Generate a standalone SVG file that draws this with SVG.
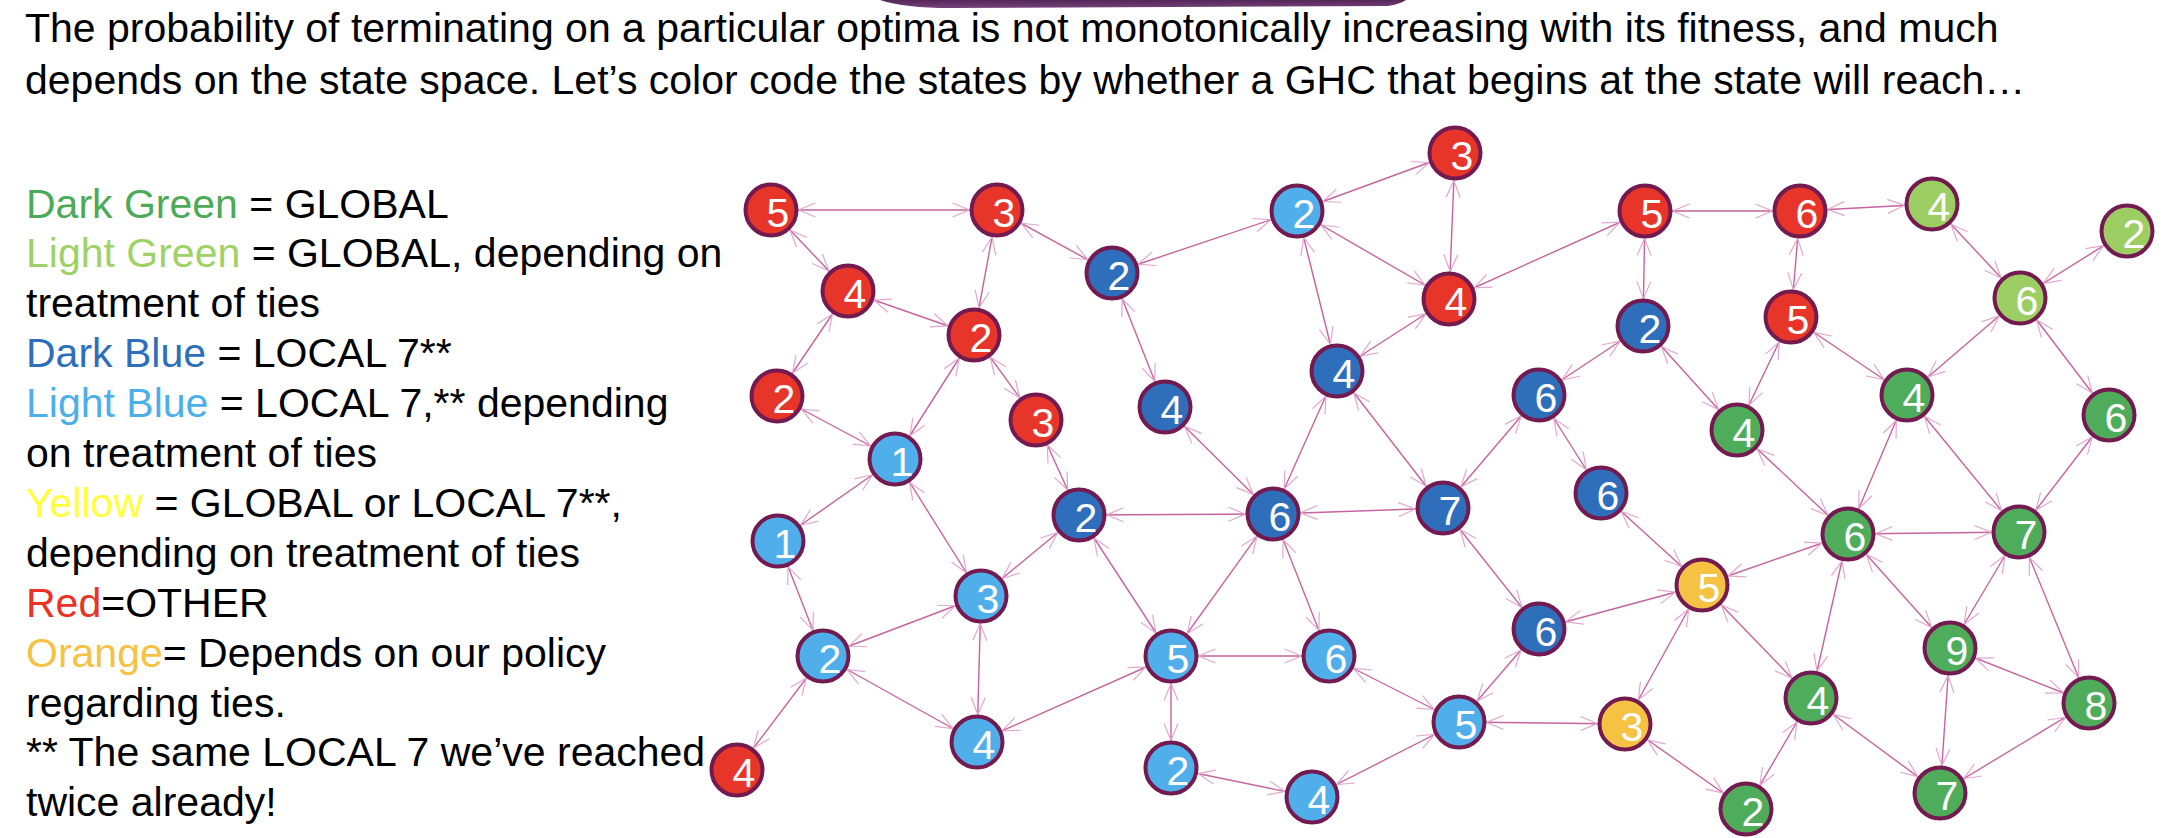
<svg xmlns="http://www.w3.org/2000/svg" width="2164" height="838" viewBox="0 0 2164 838">
<defs>
<linearGradient id="band" x1="0" y1="0" x2="0" y2="1">
<stop offset="0" stop-color="#552658"/>
<stop offset="1" stop-color="#74437A"/>
</linearGradient>
<marker id="ah" markerUnits="userSpaceOnUse" markerWidth="40" markerHeight="20" viewBox="-30 -10 40 20" refX="27.5" refY="0" orient="auto-start-reverse" overflow="visible">
<path d="M-17,-7 L0,0 L-17,7" fill="none" stroke="#E2A7CF" stroke-width="1.2"/>
</marker>
</defs>
<style>
text{font-family:"Liberation Sans",Arial,sans-serif;}
.t{font-size:41px;fill:#000;}
.edges line{stroke:#C5649E;stroke-width:1.4;marker-start:url(#ah);marker-end:url(#ah);}
.node circle{stroke:#731B50;stroke-width:4;}
.node text{font-size:41px;fill:#fff;text-anchor:middle;}
.red circle{fill:#E8352A;}
.lb circle{fill:#50AEEA;}
.db circle{fill:#2F6EBA;}
.ye circle{fill:#F5C243;}
.lg circle{fill:#9DCE64;}
.dg circle{fill:#4EAC5B;}
.cdg{fill:#4DAA57;}.clg{fill:#9FD266;}.cdb{fill:#2E6EBB;}.clb{fill:#4DAFEA;}.cye{fill:#FFFF3B;}.cre{fill:#EA3323;}.cor{fill:#F6C244;}
</style>
<rect width="2164" height="838" fill="#fff"/>
<path d="M880,0 Q905,8 950,8 L1388,6 Q1400,4 1406,0 Z" fill="url(#band)"/>
<g id="title" class="t">
<text x="25" y="42">The probability of terminating on a particular optima is not monotonically increasing with its fitness, and much</text>
<text x="25" y="94">depends on the state space. Let’s color code the states by whether a GHC that begins at the state will reach…</text>
</g>
<g id="legend" class="t">
<text x="26" y="217.5"><tspan class="cdg">Dark Green</tspan> = GLOBAL</text>
<text x="26" y="267.4"><tspan class="clg">Light Green</tspan> = GLOBAL, depending on</text>
<text x="26" y="317.3">treatment of ties</text>
<text x="26" y="367.2"><tspan class="cdb">Dark Blue</tspan> = LOCAL 7**</text>
<text x="26" y="417.1"><tspan class="clb">Light Blue</tspan> = LOCAL 7,** depending</text>
<text x="26" y="467">on treatment of ties</text>
<text x="26" y="516.9"><tspan class="cye">Yellow</tspan> = GLOBAL or LOCAL 7**,</text>
<text x="26" y="566.8">depending on treatment of ties</text>
<text x="26" y="616.7"><tspan class="cre">Red</tspan>=OTHER</text>
<text x="26" y="666.6"><tspan class="cor">Orange</tspan>= Depends on our policy</text>
<text x="26" y="716.5">regarding ties.</text>
<text x="26" y="766.4">** The same LOCAL 7 we’ve reached</text>
<text x="26" y="816.3">twice already!</text>
</g>
<g id="edges" class="edges">
<line x1="771" y1="210" x2="997" y2="210"/>
<line x1="771" y1="210" x2="848" y2="291"/>
<line x1="997" y1="210" x2="1112" y2="273"/>
<line x1="997" y1="210" x2="974" y2="335"/>
<line x1="848" y1="291" x2="974" y2="335"/>
<line x1="848" y1="291" x2="777" y2="396"/>
<line x1="777" y1="396" x2="895" y2="459"/>
<line x1="974" y1="335" x2="895" y2="459"/>
<line x1="974" y1="335" x2="1036" y2="420"/>
<line x1="1112" y1="273" x2="1297" y2="211"/>
<line x1="1112" y1="273" x2="1165" y2="407"/>
<line x1="1297" y1="211" x2="1455" y2="153"/>
<line x1="1297" y1="211" x2="1449" y2="299"/>
<line x1="1297" y1="211" x2="1337" y2="371"/>
<line x1="1449" y1="299" x2="1337" y2="371"/>
<line x1="1036" y1="420" x2="1079" y2="515"/>
<line x1="1165" y1="407" x2="1273" y2="514"/>
<line x1="1337" y1="371" x2="1273" y2="514"/>
<line x1="1337" y1="371" x2="1443" y2="508"/>
<line x1="1455" y1="153" x2="1449" y2="299"/>
<line x1="1449" y1="299" x2="1645" y2="211"/>
<line x1="1645" y1="211" x2="1800" y2="211"/>
<line x1="1645" y1="211" x2="1643" y2="326"/>
<line x1="1800" y1="211" x2="1932" y2="204"/>
<line x1="1800" y1="211" x2="1791" y2="317"/>
<line x1="1932" y1="204" x2="2020" y2="298"/>
<line x1="2127" y1="231" x2="2020" y2="298"/>
<line x1="1643" y1="326" x2="1539" y2="395"/>
<line x1="1643" y1="326" x2="1737" y2="430"/>
<line x1="1791" y1="317" x2="1737" y2="430"/>
<line x1="1791" y1="317" x2="1907" y2="395"/>
<line x1="2020" y1="298" x2="1907" y2="395"/>
<line x1="2020" y1="298" x2="2109" y2="415"/>
<line x1="1539" y1="395" x2="1443" y2="508"/>
<line x1="1539" y1="395" x2="1601" y2="493"/>
<line x1="1737" y1="430" x2="1848" y2="534"/>
<line x1="1907" y1="395" x2="1848" y2="534"/>
<line x1="1907" y1="395" x2="2019" y2="532"/>
<line x1="2109" y1="415" x2="2019" y2="532"/>
<line x1="895" y1="459" x2="778" y2="541"/>
<line x1="895" y1="459" x2="981" y2="596"/>
<line x1="778" y1="541" x2="823" y2="656"/>
<line x1="823" y1="656" x2="981" y2="596"/>
<line x1="823" y1="656" x2="977" y2="742"/>
<line x1="823" y1="656" x2="737" y2="770"/>
<line x1="981" y1="596" x2="1079" y2="515"/>
<line x1="981" y1="596" x2="977" y2="742"/>
<line x1="1079" y1="515" x2="1273" y2="514"/>
<line x1="1079" y1="515" x2="1171" y2="656"/>
<line x1="1273" y1="514" x2="1443" y2="508"/>
<line x1="1273" y1="514" x2="1171" y2="656"/>
<line x1="1273" y1="514" x2="1329" y2="656"/>
<line x1="1171" y1="656" x2="1329" y2="656"/>
<line x1="1171" y1="656" x2="977" y2="742"/>
<line x1="1171" y1="656" x2="1171" y2="768"/>
<line x1="1171" y1="768" x2="1312" y2="797"/>
<line x1="1312" y1="797" x2="1459" y2="722"/>
<line x1="1329" y1="656" x2="1459" y2="722"/>
<line x1="1443" y1="508" x2="1539" y2="629"/>
<line x1="1601" y1="493" x2="1702" y2="585"/>
<line x1="1702" y1="585" x2="1848" y2="534"/>
<line x1="1702" y1="585" x2="1539" y2="629"/>
<line x1="1702" y1="585" x2="1625" y2="724"/>
<line x1="1702" y1="585" x2="1811" y2="698"/>
<line x1="1539" y1="629" x2="1459" y2="722"/>
<line x1="1459" y1="722" x2="1625" y2="724"/>
<line x1="1625" y1="724" x2="1746" y2="809"/>
<line x1="1746" y1="809" x2="1811" y2="698"/>
<line x1="1811" y1="698" x2="1848" y2="534"/>
<line x1="1811" y1="698" x2="1940" y2="793"/>
<line x1="1848" y1="534" x2="2019" y2="532"/>
<line x1="1848" y1="534" x2="1950" y2="648"/>
<line x1="2019" y1="532" x2="1950" y2="648"/>
<line x1="2019" y1="532" x2="2089" y2="703"/>
<line x1="1950" y1="648" x2="2089" y2="703"/>
<line x1="1950" y1="648" x2="1940" y2="793"/>
<line x1="1940" y1="793" x2="2089" y2="703"/>
</g>
<g id="nodes">
<g id="n1" class="node red"><circle cx="771" cy="210" r="25.5"/><text x="778" y="227">5</text></g>
<g id="n2" class="node red"><circle cx="997" cy="210" r="25.5"/><text x="1004" y="227">3</text></g>
<g id="n3" class="node red"><circle cx="848" cy="291" r="25.5"/><text x="855" y="308">4</text></g>
<g id="n4" class="node red"><circle cx="974" cy="335" r="25.5"/><text x="981" y="352">2</text></g>
<g id="n5" class="node red"><circle cx="777" cy="396" r="25.5"/><text x="784" y="413">2</text></g>
<g id="n6" class="node red"><circle cx="1036" cy="420" r="25.5"/><text x="1043" y="437">3</text></g>
<g id="n7" class="node red"><circle cx="1455" cy="153" r="25.5"/><text x="1462" y="170">3</text></g>
<g id="n8" class="node red"><circle cx="1449" cy="299" r="25.5"/><text x="1456" y="316">4</text></g>
<g id="n9" class="node red"><circle cx="1645" cy="211" r="25.5"/><text x="1652" y="228">5</text></g>
<g id="n10" class="node red"><circle cx="1800" cy="211" r="25.5"/><text x="1807" y="228">6</text></g>
<g id="n11" class="node red"><circle cx="1791" cy="317" r="25.5"/><text x="1798" y="334">5</text></g>
<g id="n12" class="node red"><circle cx="737" cy="770" r="25.5"/><text x="744" y="787">4</text></g>
<g id="n13" class="node lb"><circle cx="1297" cy="211" r="25.5"/><text x="1304" y="228">2</text></g>
<g id="n14" class="node lb"><circle cx="895" cy="459" r="25.5"/><text x="902" y="476">1</text></g>
<g id="n15" class="node lb"><circle cx="778" cy="541" r="25.5"/><text x="785" y="558">1</text></g>
<g id="n16" class="node lb"><circle cx="981" cy="596" r="25.5"/><text x="988" y="613">3</text></g>
<g id="n17" class="node lb"><circle cx="823" cy="656" r="25.5"/><text x="830" y="673">2</text></g>
<g id="n18" class="node lb"><circle cx="977" cy="742" r="25.5"/><text x="984" y="759">4</text></g>
<g id="n19" class="node lb"><circle cx="1171" cy="656" r="25.5"/><text x="1178" y="673">5</text></g>
<g id="n20" class="node lb"><circle cx="1329" cy="656" r="25.5"/><text x="1336" y="673">6</text></g>
<g id="n21" class="node lb"><circle cx="1171" cy="768" r="25.5"/><text x="1178" y="785">2</text></g>
<g id="n22" class="node lb"><circle cx="1312" cy="797" r="25.5"/><text x="1319" y="814">4</text></g>
<g id="n23" class="node lb"><circle cx="1459" cy="722" r="25.5"/><text x="1466" y="739">5</text></g>
<g id="n24" class="node db"><circle cx="1112" cy="273" r="25.5"/><text x="1119" y="290">2</text></g>
<g id="n25" class="node db"><circle cx="1165" cy="407" r="25.5"/><text x="1172" y="424">4</text></g>
<g id="n26" class="node db"><circle cx="1337" cy="371" r="25.5"/><text x="1344" y="388">4</text></g>
<g id="n27" class="node db"><circle cx="1079" cy="515" r="25.5"/><text x="1086" y="532">2</text></g>
<g id="n28" class="node db"><circle cx="1273" cy="514" r="25.5"/><text x="1280" y="531">6</text></g>
<g id="n29" class="node db"><circle cx="1443" cy="508" r="25.5"/><text x="1450" y="525">7</text></g>
<g id="n30" class="node db"><circle cx="1539" cy="395" r="25.5"/><text x="1546" y="412">6</text></g>
<g id="n31" class="node db"><circle cx="1643" cy="326" r="25.5"/><text x="1650" y="343">2</text></g>
<g id="n32" class="node db"><circle cx="1601" cy="493" r="25.5"/><text x="1608" y="510">6</text></g>
<g id="n33" class="node db"><circle cx="1539" cy="629" r="25.5"/><text x="1546" y="646">6</text></g>
<g id="n34" class="node ye"><circle cx="1702" cy="585" r="25.5"/><text x="1709" y="602">5</text></g>
<g id="n35" class="node ye"><circle cx="1625" cy="724" r="25.5"/><text x="1632" y="741">3</text></g>
<g id="n36" class="node lg"><circle cx="1932" cy="204" r="25.5"/><text x="1939" y="221">4</text></g>
<g id="n37" class="node lg"><circle cx="2127" cy="231" r="25.5"/><text x="2134" y="248">2</text></g>
<g id="n38" class="node lg"><circle cx="2020" cy="298" r="25.5"/><text x="2027" y="315">6</text></g>
<g id="n39" class="node dg"><circle cx="1737" cy="430" r="25.5"/><text x="1744" y="447">4</text></g>
<g id="n40" class="node dg"><circle cx="1907" cy="395" r="25.5"/><text x="1914" y="412">4</text></g>
<g id="n41" class="node dg"><circle cx="2109" cy="415" r="25.5"/><text x="2116" y="432">6</text></g>
<g id="n42" class="node dg"><circle cx="1848" cy="534" r="25.5"/><text x="1855" y="551">6</text></g>
<g id="n43" class="node dg"><circle cx="2019" cy="532" r="25.5"/><text x="2026" y="549">7</text></g>
<g id="n44" class="node dg"><circle cx="1950" cy="648" r="25.5"/><text x="1957" y="665">9</text></g>
<g id="n45" class="node dg"><circle cx="1811" cy="698" r="25.5"/><text x="1818" y="715">4</text></g>
<g id="n46" class="node dg"><circle cx="2089" cy="703" r="25.5"/><text x="2096" y="720">8</text></g>
<g id="n47" class="node dg"><circle cx="1940" cy="793" r="25.5"/><text x="1947" y="810">7</text></g>
<g id="n48" class="node dg"><circle cx="1746" cy="809" r="25.5"/><text x="1753" y="826">2</text></g>
</g>
</svg>
